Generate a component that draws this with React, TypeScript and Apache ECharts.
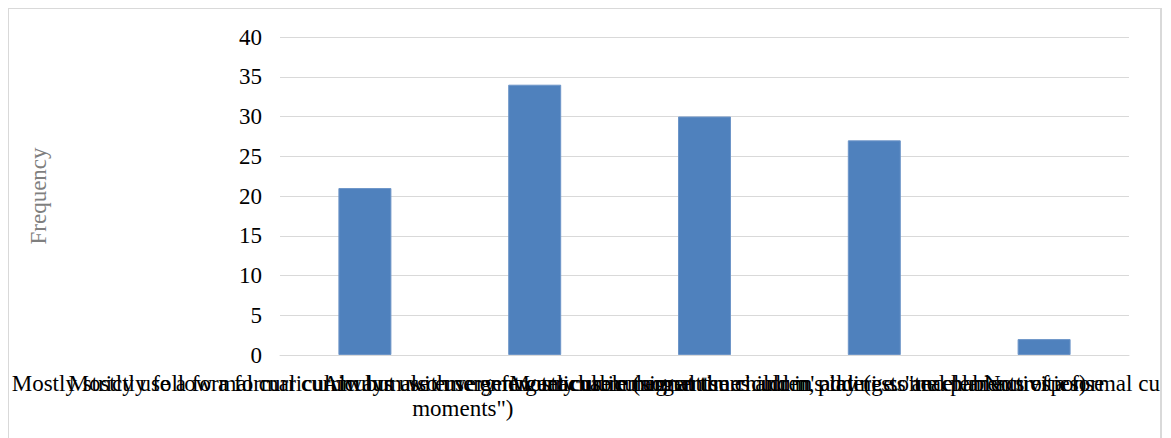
import React, { useEffect, useRef } from "react";
import * as echarts from "echarts";

const categories: string[] = [
  "Mostly strictly follow a formal curriculum with very few teachable moments",
  "Mostly use a formal curriculum but also use emergent curriculum at times and in play (i.e. \"teachable\nmoments\")" + " ".repeat(25),
  "Always use emergent curriculum (signal the children's interests and plan activities)",
  "Mostly use emergent curriculum, adding some elements of a formal curriculum",
  "Nonresponse",
];
const frequencies: number[] = [21, 34, 30, 27, 2];
const yTicks: number[] = [0, 5, 10, 15, 20, 25, 30, 35, 40];
const yAxisTitle = "Frequency";

export default function App() {
  const ref = useRef<HTMLDivElement>(null);
  useEffect(() => {
    if (!ref.current) return;
    const chart = echarts.init(ref.current, undefined, { renderer: "svg" });
    const font = "Liberation Serif, serif";
    chart.setOption({
      animation: false,
      textStyle: { fontFamily: font },
      grid: { left: 271, right: 31, top: 28, bottom: 83, containLabel: false, outerBoundsMode: "none" },
      xAxis: {
        type: "category",
        data: categories,
        axisTick: { show: false },
        axisLine: { lineStyle: { color: "#d9d9d9", width: 1 } },
        axisLabel: {
          interval: 0,
          color: "#000",
          fontFamily: font,
          fontSize: 23,
          lineHeight: 25,
          margin: 16,
          hideOverlap: false,
        },
      },
      yAxis: {
        type: "value",
        min: yTicks[0],
        max: yTicks[yTicks.length - 1],
        interval: yTicks[1] - yTicks[0],
        name: yAxisTitle,
        nameLocation: "middle",
        nameGap: 230,
        nameRotate: 90,
        nameTextStyle: { color: "#7f7f7f", fontFamily: font, fontSize: 23 },
        axisLine: { show: false },
        axisTick: { show: false },
        axisLabel: {
          color: "#000",
          fontFamily: font,
          fontSize: 23,
          margin: 18,
          formatter: (v: number) => `{t|${v}}`,
          rich: { t: { fontFamily: font, fontSize: 23, color: "#000" } },
        },
        splitLine: { lineStyle: { color: "#d9d9d9", width: 1 } },
      },
      series: [
        {
          type: "bar",
          data: frequencies,
          barWidth: 53,
          itemStyle: { color: "#4f81bd", borderColor: "#6d95c8", borderWidth: 1 },
        },
      ],
    });
    return () => chart.dispose();
  }, []);
  return (
    <div
      style={{
        width: 1154,
        height: 430,
        boxSizing: "border-box",
        borderTop: "1px solid #d9d9d9",
        borderLeft: "1px solid #d9d9d9",
        borderRight: "2px solid #d9d9d9",
        background: "#fff",
      }}
    >
      <div ref={ref} style={{ width: 1151, height: 429 }} />
    </div>
  );
}
